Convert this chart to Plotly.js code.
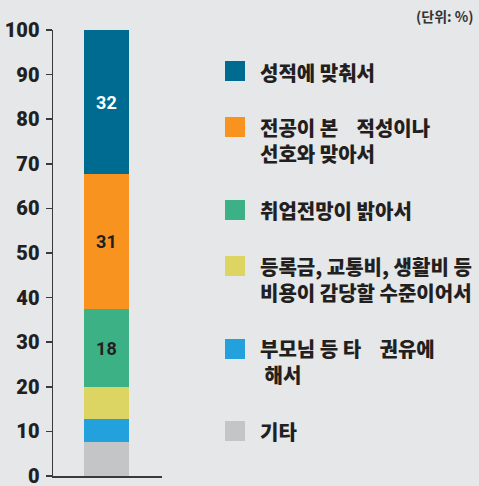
<!DOCTYPE html>
<html>
<head>
<meta charset="utf-8">
<script src="https://cdn.plot.ly/plotly-3.0.1.min.js"></script>
<style>html,body{margin:0;padding:0;background:#e6e7e9;}</style>
</head>
<body>
<div id="chart" style="width:479px;height:486px;"></div>
<script>
// Data (bottom to top of the stacked bar)
const seriesNames = ['기타', '부모님 등 타 권유에 해서', '등록금, 교통비, 생활비 등 비용이 감당할 수준이어서', '취업전망이 밝아서', '전공이 본 적성이나 선호와 맞아서', '성적에 맞춰서'];
const legendLabels = ['기타', '부모님 등 타\u00a0\u00a0\u00a0\u00a0권유에<br>\u00a0해서', '등록금, 교통비, 생활비 등<br>비용이 감당할 수준이어서', '취업전망이 밝아서', '전공이 본\u00a0\u00a0\u00a0\u00a0적성이나<br>선호와 맞아서', '성적에 맞춰서'];
const values = [7.6, 5.2, 7.2, 17.4, 30.3, 32.3];
const barLabels = ['', '', '', '18', '31', '32'];
const colors = ['#c4c5c7', '#22a1dc', '#dcd563', '#3cb185', '#f7931e', '#006b91'];
const labelColors = ['#231f20', '#231f20', '#231f20', '#231f20', '#231f20', '#ffffff'];
const yTicks = [0, 10, 20, 30, 40, 50, 60, 70, 80, 90, 100];
const unitText = '(단위: %)';

// layout geometry in pixels
const W = 479, H = 486;
const L = 53, R = 162, T = 30, B = 476;
const px = x => (x - L) / (R - L);
const py = y => (B - y) / (B - T);

const numFont = 'Roboto, Liberation Sans, sans-serif';
const krFont = 'Noto Sans CJK KR Black, Noto Sans CJK KR, sans-serif';

const traces = values.map((v, i) => ({
  type: 'bar',
  x: [0],
  y: [v],
  name: seriesNames[i],
  width: 0.41,
  marker: {color: colors[i], line: {width: 0}},
  text: [barLabels[i]],
  texttemplate: '%{text}',
  textposition: 'inside',
  insidetextanchor: 'middle',
  textangle: 0,
  insidetextfont: {family: numFont, size: 18, color: labelColors[i], weight: 700},
  hoverinfo: 'skip',
  showlegend: false
}));

// legend positions (square centers, text centers)
const sqCenters = [431, 349, 266, 210, 127, 71];
const txtCenters = [431, 362, 279, 210, 140, 72];

const shapes = [];
const annotations = [];
for (let i = 0; i < values.length; i++) {
  shapes.push({
    type: 'rect', xref: 'paper', yref: 'paper',
    x0: px(225), x1: px(245), y0: py(sqCenters[i] + 10), y1: py(sqCenters[i] - 10),
    fillcolor: colors[i], line: {width: 0}
  });
  annotations.push({
    xref: 'paper', yref: 'paper', x: px(258), y: py(txtCenters[i]),
    xanchor: 'left', yanchor: 'middle', align: 'left', showarrow: false,
    text: legendLabels[i],
    font: {family: krFont, size: 20, color: '#231f20', weight: 900}
  });
}
annotations.push({
  xref: 'paper', yref: 'paper', x: px(476), y: py(16),
  xanchor: 'right', yanchor: 'middle', showarrow: false,
  text: unitText,
  font: {family: 'Noto Sans CJK KR, sans-serif', size: 14, color: '#333333', weight: 700}
});

const layout = {
  width: W, height: H,
  paper_bgcolor: '#e6e7e9', plot_bgcolor: '#e6e7e9',
  margin: {l: L, r: W - R, t: T, b: H - B, pad: 0},
  barmode: 'stack',
  showlegend: false,
  xaxis: {range: [-0.49, 0.51], showgrid: false, zeroline: false, showticklabels: false,
          ticks: '', showline: true, linecolor: '#3a3a3a', linewidth: 1.5, fixedrange: true},
  yaxis: {range: [0, 100], tickvals: yTicks, ticktext: yTicks.map(String), showgrid: false, zeroline: false,
          showline: true, linecolor: '#3a3a3a', linewidth: 1.5, ticks: 'outside', ticklen: 6,
          tickwidth: 1.5, tickcolor: '#3a3a3a', ticklabelstandoff: 2, ticklabeloverflow: 'allow',
          tickfont: {family: numFont, size: 20, color: '#231f20', weight: 900},
          fixedrange: true},
  shapes: shapes,
  annotations: annotations
};

Plotly.newPlot('chart', traces, layout, {displayModeBar: false, staticPlot: true});
</script>
</body>
</html>
